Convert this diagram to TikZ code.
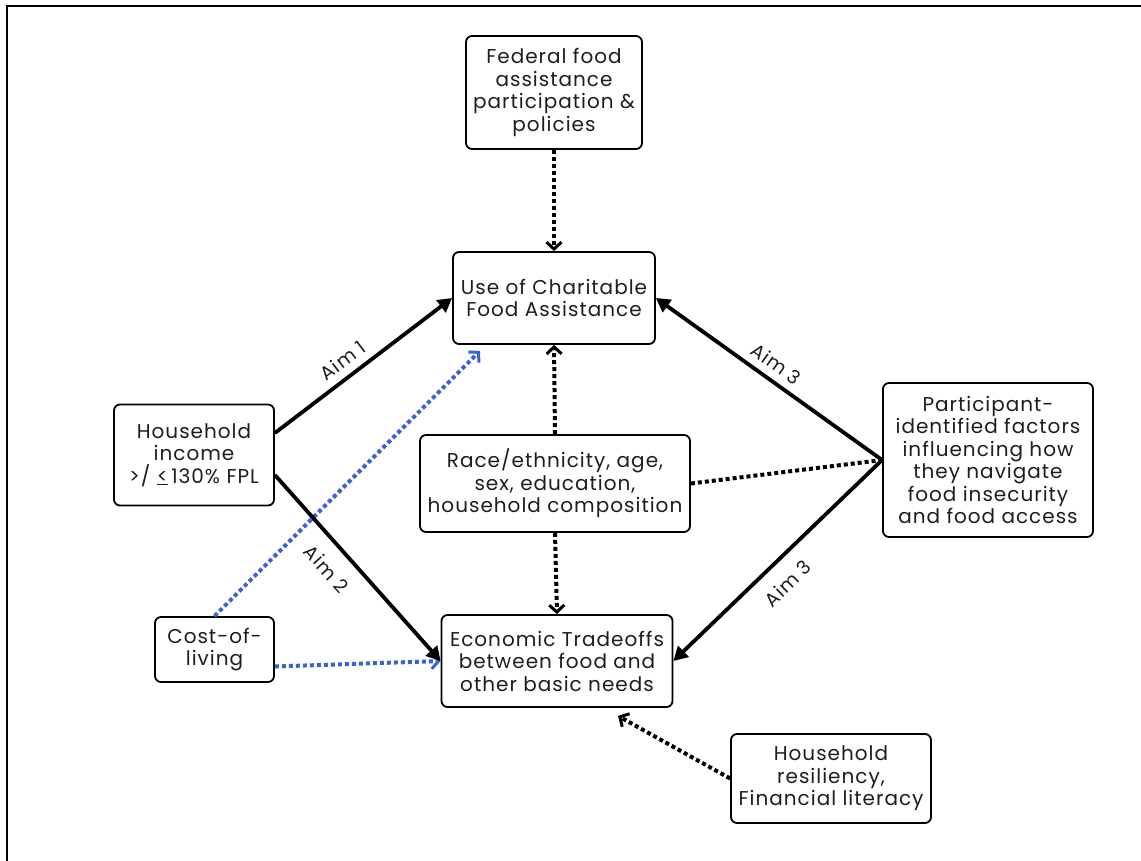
\documentclass[tikz,border=0pt]{standalone}
\usepackage{fontspec}
\setmainfont{Poppins}[LetterSpace=5]
\usetikzlibrary{arrows.meta}
\definecolor{txt}{HTML}{1E1E1E}
\definecolor{blu}{HTML}{3A62D8}
\begin{document}
\begin{tikzpicture}[x=1pt,y=-1pt,
  box/.style={draw=black, line width=1.8pt, rounded corners=6pt, align=center,
    inner sep=0pt, font=\fontsize{20}{22.5}\selectfont, text=txt},
  aimarrow/.style={line width=3.8pt, -{Triangle[length=14pt,width=15pt]}},
  dotline/.style={line width=4pt, dash pattern=on 4pt off 3pt},
  dotarrow/.style={dotline, -{Straight Barb[length=7pt,width=15pt,line width=3pt]}},
  bluearrow/.style={dotarrow, draw=blu},
  aimlabel/.style={sloped, font=\fontsize{19}{20}\selectfont, text=txt}
]
\useasboundingbox (0,0) rectangle (1141,861);
\fill[white] (0,0) rectangle (1141,861);
\draw[line width=2.5pt] (7,861) -- (7,6) -- (1141,6);

\node[box, minimum width=176pt, minimum height=113pt] (fed) at (554,92.5)
  {Federal food\\assistance\\participation \&\\policies};
\node[box, minimum width=202pt, minimum height=92pt] (use) at (554,298)
  {Use of Charitable\\Food Assistance};
\node[box, minimum width=160pt, minimum height=101pt] (inc) at (194,455)
  {Household\\income\\>/ \underline{<}\,130\% FPL};
\node[box, minimum width=270pt, minimum height=97pt] (race) at (555,483.5)
  {Race/ethnicity, age,\\sex, education,\\household composition};
\node[box, minimum width=210pt, minimum height=154pt] (part) at (988,460)
  {Participant-\\identified factors\\influencing how\\they navigate\\food insecurity\\and food access};
\node[box, minimum width=119pt, minimum height=65pt] (cost) at (214.5,649.5)
  {Cost-of-\\living};
\node[box, minimum width=231pt, minimum height=92pt] (econ) at (557,661)
  {Economic Tradeoffs\\between food and\\other basic needs};
\node[box, minimum width=200pt, minimum height=89pt] (res) at (831,778.5)
  {Household\\resiliency,\\Financial literacy};

% dotted black arrows
\draw[dotarrow] (fed.south) -- (use.north);
\draw[dotarrow] (race.north) -- (use.south);
\draw[dotarrow] (race.south) -- (econ.north);
\draw[dotarrow] (res.west) -- ([xshift=61pt,yshift=-8pt]econ.south);
\draw[dotline] (race.east) -- (part.west);

% blue dotted arrows
\draw[bluearrow] (cost.north) -- ([xshift=-74pt,yshift=-6pt]use.south);
\draw[bluearrow] ([yshift=-17pt]cost.east) -- (econ.west);

% solid aim arrows
\draw[aimarrow] ([yshift=22pt]inc.east) -- (use.west)
  node[aimlabel, pos=0.44, above=4pt] {Aim 1};
\draw[aimarrow] ([yshift=-20pt]inc.east) -- (econ.west)
  node[aimlabel, pos=0.42, below=11pt] {Aim 2};
\draw[aimarrow, {Triangle[length=14pt,width=15pt]}-] (use.east) -- (part.west)
  node[aimlabel, pos=0.49, above=4pt] {Aim 3};
\draw[aimarrow, {Triangle[length=14pt,width=15pt]}-] (econ.east) -- (part.west)
  node[aimlabel, pos=0.47, below=11pt] {Aim 3};
\end{tikzpicture}
\end{document}
